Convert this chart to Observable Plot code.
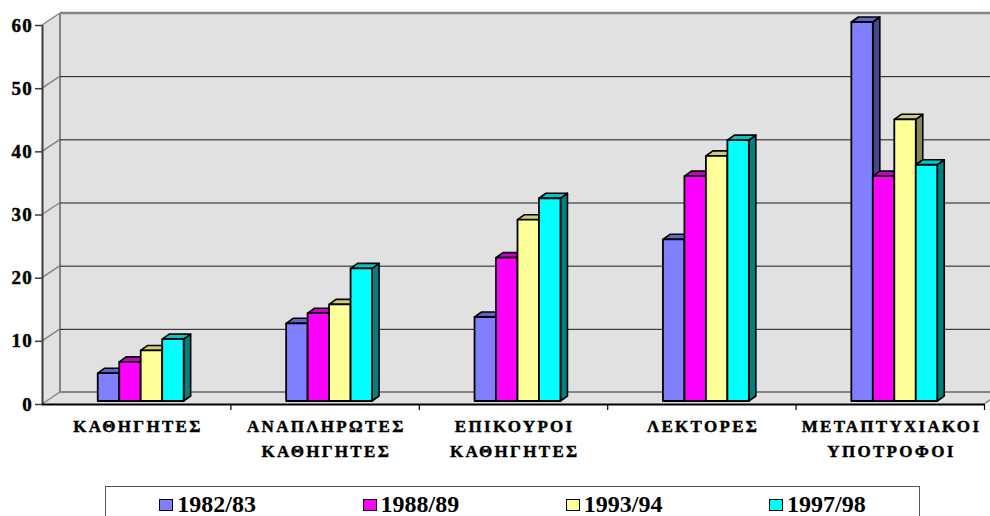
<!DOCTYPE html>
<html>
<head>
<meta charset="utf-8">
<script src="https://cdn.jsdelivr.net/npm/d3@7"></script>
<script src="https://cdn.jsdelivr.net/npm/@observablehq/plot@0.6"></script>
<style>
  html, body { margin: 0; padding: 0; background: #fff; }
  #wrap { position: relative; width: 990px; height: 516px; overflow: hidden; font-family: "Liberation Serif", "Times New Roman", serif; }
  #legend {
    position: absolute; left: 105px; top: 486px; width: 815px; height: 44px;
    border: 1.5px solid #555; box-sizing: border-box;
    display: flex; justify-content: space-around; align-items: flex-start;
  }
  #legend .item { margin-top: 8px; font-weight: 700; font-size: 24px; line-height: 18px; white-space: nowrap; }
  #legend .sw { display: inline-block; width: 12px; height: 10px; border: 1.5px solid #000; margin-right: 4px; vertical-align: 1px; }
</style>
</head>
<body>
<div id="wrap"></div>
<script>
// Academic staff categories
const categories = [
  "ΚΑΘΗΓΗΤΕΣ",
  "ΑΝΑΠΛΗΡΩΤΕΣ\nΚΑΘΗΓΗΤΕΣ",
  "ΕΠΙΚΟΥΡΟΙ\nΚΑΘΗΓΗΤΕΣ",
  "ΛΕΚΤΟΡΕΣ",
  "ΜΕΤΑΠΤΥΧΙΑΚΟΙ\nΥΠΟΤΡΟΦΟΙ"
];

// Academic years
const series = ["1982/83", "1988/89", "1993/94", "1997/98"];

// One value per category, for each academic year
const values1982 = [4.4, 12.3, 13.3, 25.6, 60.0];
const values1988 = [6.2, 13.9, 22.7, 35.6, 35.6];
const values1993 = [8.0, 15.3, 28.7, 38.8, 44.6];
const values1997 = [9.8, 21.0, 32.1, 41.3, 37.4];
const seriesValues = [values1982, values1988, values1993, values1997];

const yTicks = [0, 10, 20, 30, 40, 50, 60];

// Face colours: front, top, side
const frontColors = ["#8080FF", "#FF00FF", "#FFFF99", "#00FFFF"];
const topColors   = ["#6464C8", "#C800C8", "#CCCC7A", "#00C8C8"];
const sideColors  = ["#46468C", "#820082", "#86865A", "#008080"];

// 3D geometry (pixels)
const wall = {dx: 18, dy: -12};      // depth of the floor / back wall
const barShift = {dx: 4.5, dy: -3};  // bars sit a little behind the front edge
const barDepth = {dx: 7, dy: -5};    // thickness of each bar
const barWidth = 0.114;              // in category units
const groupInset = (1 - series.length * barWidth) / 2;
const wallFill = "#E1E1E1";
const edge = "#858585";
const serif = "'Liberation Serif', 'Times New Roman', serif";

const nCat = categories.length;
const yMax = 60;

// Floor, left wall, back wall and their edges
function room(index, {x, y}) {
  const g = d3.create("svg:g");
  const X0 = x(0), X1 = x(nCat), Y0 = y(0), Y1 = y(yMax);
  const B = (px, py) => [px + wall.dx, py + wall.dy];
  const poly = pts => "M" + pts.map(p => p.join(",")).join("L") + "Z";
  g.append("path").attr("fill", wallFill)
    .attr("d", poly([B(X0, Y1), B(X1, Y1), B(X1, Y0), B(X0, Y0)]));
  g.append("path").attr("fill", wallFill)
    .attr("d", poly([[X0, Y0], B(X0, Y0), B(X0, Y1), [X0, Y1]]));
  g.append("path").attr("fill", wallFill)
    .attr("d", poly([[X0, Y0], B(X0, Y0), B(X1, Y0), [X1, Y0]]));
  const line = (a, b, w) => g.append("line")
    .attr("x1", a[0]).attr("y1", a[1]).attr("x2", b[0]).attr("y2", b[1])
    .attr("stroke", edge).attr("stroke-width", w);
  line(B(X0, Y1), B(X1, Y1), 2.5);
  line(B(X0, Y1), B(X0, Y0), 2);
  line(B(X0, Y0), B(X1, Y0), 2);
  for (const v of yTicks) line([X0, y(v)], B(X0, y(v)), 1.5);
  line([X1, Y0], B(X1, Y0), 1.5);
  return g.node();
}

// Bars of one year, with their top and side faces
function prism(j) {
  return Plot.rect(categories, {
    x1: (d, i) => i + groupInset + j * barWidth,
    x2: (d, i) => i + groupInset + (j + 1) * barWidth,
    y1: 0,
    y2: (d, i) => seriesValues[j][i],
    fill: frontColors[j],
    stroke: "black",
    strokeWidth: 1.8,
    render(index, scales, values, dimensions, context, next) {
      const front = next(index, scales, values, dimensions, context);
      const g = d3.create("svg:g")
        .attr("transform", `translate(${barShift.dx},${barShift.dy})`)
        .attr("stroke", "black").attr("stroke-width", 1.6).attr("stroke-linejoin", "round");
      const {x1, x2, y1, y2} = values;
      for (const i of index) {
        const xl = Math.min(x1[i], x2[i]), xr = Math.max(x1[i], x2[i]);
        const yt = Math.min(y1[i], y2[i]), yb = Math.max(y1[i], y2[i]);
        const {dx, dy} = barDepth;
        g.append("path").attr("fill", sideColors[j])
          .attr("d", `M${xr},${yb}L${xr + dx},${yb + dy}L${xr + dx},${yt + dy}L${xr},${yt}Z`);
        g.append("path").attr("fill", topColors[j])
          .attr("d", `M${xl},${yt}L${xl + dx},${yt + dy}L${xr + dx},${yt + dy}L${xr},${yt}Z`);
      }
      g.append(() => front);
      return g.node();
    }
  });
}

// Heavy bold serif text with letter spacing
function spaced(spacing) {
  return function (index, scales, values, dimensions, context, next) {
    const g = next(index, scales, values, dimensions, context);
    d3.select(g)
      .attr("font-family", serif)
      .attr("font-weight", "bold")
      .attr("stroke", "black")
      .attr("stroke-width", 0.45)
      .selectAll("text")
      .attr("letter-spacing", spacing)
      .style("letter-spacing", spacing + "px");
    return g;
  };
}

const chart = Plot.plot({
  width: 990,
  height: 480,
  marginLeft: 42,
  marginRight: 6,
  marginTop: 25,
  marginBottom: 76,
  style: {fontFamily: serif, background: "transparent", color: "black"},
  x: {type: "linear", domain: [0, nCat], axis: null},
  y: {type: "linear", domain: [0, yMax], axis: null},
  marks: [
    room,
    Plot.ruleY(yTicks.filter(v => v > 0 && v < yMax), {dx: wall.dx, dy: wall.dy, stroke: "#1a1a1a", strokeWidth: 1}),
    ...series.map((s, j) => prism(j)),
    Plot.ruleX([0], {y1: 0, y2: yMax, stroke: "#3c3c3c", strokeWidth: 2}),
    Plot.ruleY([0], {stroke: "black", strokeWidth: 2}),
    Plot.axisY({ticks: yTicks, tickSize: 7, tickPadding: 3, tickFormat: () => "",
      stroke: "#3c3c3c", strokeWidth: 1.5, label: null}),
    Plot.textY(yTicks, {
      x: 0, y: d => d, text: d => String(d), textAnchor: "end", dx: -9.5,
      fontSize: 19, fill: "black", render: spaced(1.2)
    }),
    // tick marks on the category boundaries
    Plot.axisX({ticks: d3.range(1, nCat + 1), tickSize: 6, tickFormat: () => "", stroke: "black", strokeWidth: 1.2, label: null}),
    Plot.text(categories, {
      x: (d, i) => i + 0.5,
      y: 0,
      dx: 1.2,
      dy: 10,
      text: d => d,
      lineAnchor: "top",
      lineHeight: 1.47,
      fontSize: 17,
      fill: "black",
      render: spaced(2.3)
    })
  ]
});

const wrap = document.getElementById("wrap");
wrap.appendChild(chart);

// Legend
const legend = document.createElement("div");
legend.id = "legend";
series.forEach((s, j) => {
  const item = document.createElement("div");
  item.className = "item";
  const sw = document.createElement("span");
  sw.className = "sw";
  sw.style.background = frontColors[j];
  item.appendChild(sw);
  item.appendChild(document.createTextNode(s));
  legend.appendChild(item);
});
wrap.appendChild(legend);
</script>
</body>
</html>
